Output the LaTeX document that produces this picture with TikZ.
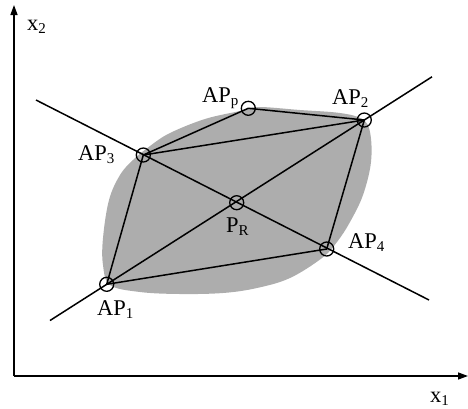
\documentclass[tikz,border=0pt]{standalone}
\usepackage{fontspec}
\setmainfont{Liberation Serif}
\usetikzlibrary{arrows.meta}
\newcommand{\lowsub}[1]{\raisebox{-3pt}{\fontsize{15}{15}\selectfont #1}}
\tikzset{
  axis/.style={line width=1.4pt,-{Triangle[length=10pt,width=7pt]}},
  edge/.style={line width=1.5pt},
  ap/.style={circle,draw,line width=1.3pt,minimum size=14pt,inner sep=0pt},
  lbl/.style={anchor=base west,inner sep=0pt,font=\fontsize{22.5}{24}\selectfont},
  blob/.style={fill=black!32,draw=none}
}
\begin{document}
\begin{tikzpicture}[x=1pt,y=-1pt]
\useasboundingbox (0,0) rectangle (468,408);
% shaded region
\path[blob] plot[smooth cycle,tension=0.6] coordinates {
 (103,238) (109,200) (120,175) (133,160) (150,146) (170,133) (205,119)
 (240,111) (258,107) (300,110) (340,113) (362,119) (370,132) (371,162)
 (363,195) (350,222) (337,242) (322,258) (290,278) (257,288) (223,293)
 (180,294) (140,292) (110,285) (103,265)};
% axes
\coordinate (O) at (14,376);
\coordinate (Xend) at (468,376);
\coordinate (Yend) at (14,5);
\draw[axis] (O) -- (Xend);
\draw[axis] (O) -- (Yend);
% points
\coordinate (p1) at (106.7,284.3);
\coordinate (p2) at (364.3,120);
\coordinate (p3) at (143.3,155);
\coordinate (p4) at (326.7,249);
\coordinate (pp) at (248.3,108.3);
\coordinate (pr) at (236.7,202.7);
% long lines
\coordinate (L1a) at (50,320.5);
\coordinate (L1b) at (432,76.8);
\coordinate (L2a) at (36,100);
\coordinate (L2b) at (429,300);
\draw[edge] (L1a) -- (L1b);
\draw[edge] (L2a) -- (L2b);
% polygon edges
\draw[edge] (p1) -- (p3) -- (pp) -- (p2) -- (p4) -- (p1);
\draw[edge] (p3) -- (p2);
% circles
\node[ap] (AP1) at (p1) {};
\node[ap] (AP2) at (p2) {};
\node[ap] (AP3) at (p3) {};
\node[ap] (AP4) at (p4) {};
\node[ap] (APp) at (pp) {};
\node[ap] (PR) at (pr) {};
% labels
\node[lbl] (tAP1) at (97,315) {AP\lowsub{1}};
\node[lbl] (tAP2) at (332,104) {AP\lowsub{2}};
\node[lbl] (tAP3) at (78,160) {AP\lowsub{3}};
\node[lbl] (tAP4) at (348,248) {AP\lowsub{4}};
\node[lbl] (tAPp) at (202,102.7) {AP\lowsub{p}};
\node[lbl] (tPR) at (226,232) {P\lowsub{R}};
\node[lbl] (tx2) at (27,30) {x\lowsub{2}};
\node[lbl] (tx1) at (430,402) {x\lowsub{1}};
\end{tikzpicture}
\end{document}
